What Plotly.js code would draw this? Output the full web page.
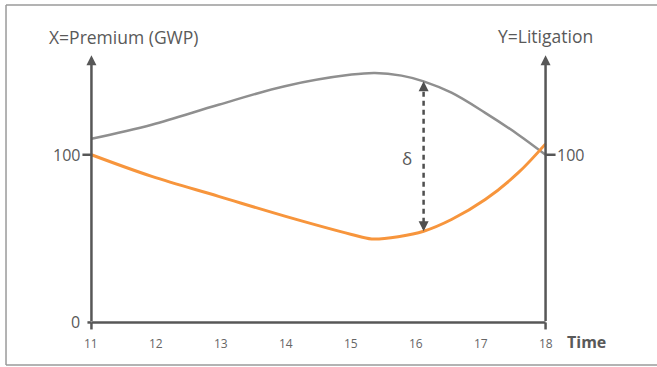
<!DOCTYPE html>
<html>
<head>
<meta charset="utf-8">
<script src="https://cdn.plot.ly/plotly-3.0.1.min.js"></script>
<style>html,body{margin:0;padding:0;background:#fff;}#chart{width:657px;height:367px;}</style>
</head>
<body>
<div id="chart"></div>
<script>
// Data
const timeTicks = [11, 12, 13, 14, 15, 16, 17, 18];
const premiumX = [11.0, 11.93, 12.96, 13.98, 15.01, 15.37, 15.78, 16.12, 16.55, 17.07, 17.58, 18.0];
const premiumY = [109.5, 117.9, 129.8, 140.9, 147.8, 148.8, 147.2, 143.8, 137.0, 125.0, 112.0, 100.0];
const litigationX = [11.0, 11.93, 12.96, 13.98, 15.01, 15.32, 15.75, 16.12, 16.55, 17.07, 17.58, 18.0];
const litigationY = [100.0, 87.1, 75.2, 63.4, 52.5, 49.8, 51.3, 54.4, 61.4, 73.3, 89.3, 106.5];
const deltaX = 16.12;
const deltaTop = 143.8;
const deltaBottom = 54.4;
const yTickVals = [0, 100];
const axisTop = 159.3;

const axisColor = '#575757';
const textColor = '#595959';
const fontFam = '"Open Sans", Roboto, sans-serif';

const traces = [
  {x: premiumX, y: premiumY, mode: 'lines', line: {color: '#8f8f8f', width: 2.5, shape: 'spline', smoothing: 1}, hoverinfo: 'skip'},
  {x: litigationX, y: litigationY, mode: 'lines', line: {color: '#f7953c', width: 3, shape: 'spline', smoothing: 1}, hoverinfo: 'skip'}
];

const xMin = timeTicks[0], xMax = timeTicks[timeTicks.length - 1];

const shapes = [
  // frame (top, left, bottom)
  {type: 'line', xref: 'paper', yref: 'paper', x0: -0.1021, x1: 1.16, y0: 1.0734, y1: 1.0734, line: {color: '#9a9a9a', width: 1.5}},
  {type: 'line', xref: 'paper', yref: 'paper', x0: -0.1021, x1: -0.1021, y0: -0.0275, y1: 1.0734, line: {color: '#9a9a9a', width: 1.5}},
  {type: 'line', xref: 'paper', yref: 'paper', x0: -0.1021, x1: 1.16, y0: -0.0275, y1: -0.0275, line: {color: '#9a9a9a', width: 1.5}},
  // x axis
  {type: 'line', xref: 'x', yref: 'y', x0: xMin, x1: xMax, y0: 0, y1: 0, line: {color: axisColor, width: 2.5}},
  // end ticks downwards
  {type: 'line', xref: 'x', yref: 'y', ysizemode: 'pixel', yanchor: 0, x0: xMin, x1: xMin, y0: 0, y1: -7, line: {color: axisColor, width: 2.5}},
  {type: 'line', xref: 'x', yref: 'y', ysizemode: 'pixel', yanchor: 0, x0: xMax, x1: xMax, y0: 0, y1: -7, line: {color: axisColor, width: 2.5}},
  // y ticks
  {type: 'line', xref: 'x', yref: 'y', xsizemode: 'pixel', xanchor: xMin, x0: -4, x1: 0, y0: yTickVals[0], y1: yTickVals[0], line: {color: axisColor, width: 2.5}},
  {type: 'line', xref: 'x', yref: 'y', xsizemode: 'pixel', xanchor: xMin, x0: -9, x1: 0, y0: yTickVals[1], y1: yTickVals[1], line: {color: axisColor, width: 2.5}},
  {type: 'line', xref: 'x', yref: 'y', xsizemode: 'pixel', xanchor: xMax, x0: 0, x1: 10, y0: yTickVals[1], y1: yTickVals[1], line: {color: axisColor, width: 2.5}},
  // delta dashed line
  {type: 'line', xref: 'x', yref: 'y', x0: deltaX, x1: deltaX, y0: deltaBottom + 5, y1: deltaTop - 5, line: {color: '#4f4f4f', width: 2.5, dash: '5px,4px'}}
];

const annotations = [];
// axis arrows
[xMin, xMax].forEach(function (xv) {
  annotations.push({x: xv, y: axisTop, ax: xv, ay: 0, xref: 'x', yref: 'y', axref: 'x', ayref: 'y', text: '', showarrow: true, arrowhead: 2, arrowsize: 0.8, arrowwidth: 2.5, arrowcolor: axisColor});
});
// delta arrow heads
annotations.push({x: deltaX, y: deltaTop, xref: 'x', yref: 'y', ax: 0, ay: 9, text: '', showarrow: true, arrowhead: 2, arrowsize: 0.8, arrowwidth: 2.5, arrowcolor: '#4f4f4f'});
annotations.push({x: deltaX, y: deltaBottom, xref: 'x', yref: 'y', ax: 0, ay: -9, text: '', showarrow: true, arrowhead: 2, arrowsize: 0.8, arrowwidth: 2.5, arrowcolor: '#4f4f4f'});
// x tick labels
timeTicks.forEach(function (t) {
  annotations.push({x: t, y: 0, xref: 'x', yref: 'y', yanchor: 'top', yshift: -11, text: String(t), showarrow: false, font: {family: fontFam, size: 12, color: '#666666'}});
});
// y tick labels
annotations.push({x: xMin, y: yTickVals[0], xref: 'x', yref: 'y', xanchor: 'right', xshift: -9, text: String(yTickVals[0]), showarrow: false, font: {family: fontFam, size: 16, color: textColor}});
annotations.push({x: xMin, y: yTickVals[1], xref: 'x', yref: 'y', xanchor: 'right', xshift: -9, text: String(yTickVals[1]), showarrow: false, font: {family: fontFam, size: 16, color: textColor}});
annotations.push({x: xMax, y: yTickVals[1], xref: 'x', yref: 'y', xanchor: 'left', xshift: 9, text: String(yTickVals[1]), showarrow: false, font: {family: fontFam, size: 16, color: textColor}});
// axis titles
annotations.push({x: 11.5, y: 170.4, xref: 'x', yref: 'y', text: 'X=Premium (GWP)', showarrow: false, font: {family: fontFam, size: 17.5, color: textColor}});
annotations.push({x: 18.0, y: 171, xref: 'x', yref: 'y', text: 'Y=Litigation', showarrow: false, font: {family: fontFam, size: 17.5, color: textColor}});
annotations.push({x: xMax, y: 0, xref: 'x', yref: 'y', xanchor: 'left', xshift: 19, yshift: -20, text: '<b>Time</b>', showarrow: false, font: {family: fontFam, size: 16, color: textColor}});
// delta label
annotations.push({x: 15.86, y: 98, xref: 'x', yref: 'y', text: 'δ', showarrow: false, font: {family: fontFam, size: 17, color: textColor}});

const layout = {
  width: 657, height: 367,
  margin: {l: 59, r: 79, t: 29, b: 11, pad: 0},
  paper_bgcolor: '#ffffff', plot_bgcolor: '#ffffff',
  showlegend: false,
  xaxis: {range: [10.5, 18.5], visible: false, fixedrange: true},
  yaxis: {range: [-20, 175], visible: false, fixedrange: true},
  shapes: shapes,
  annotations: annotations
};

Plotly.newPlot('chart', traces, layout, {staticPlot: true, displayModeBar: false});
</script>
</body>
</html>
